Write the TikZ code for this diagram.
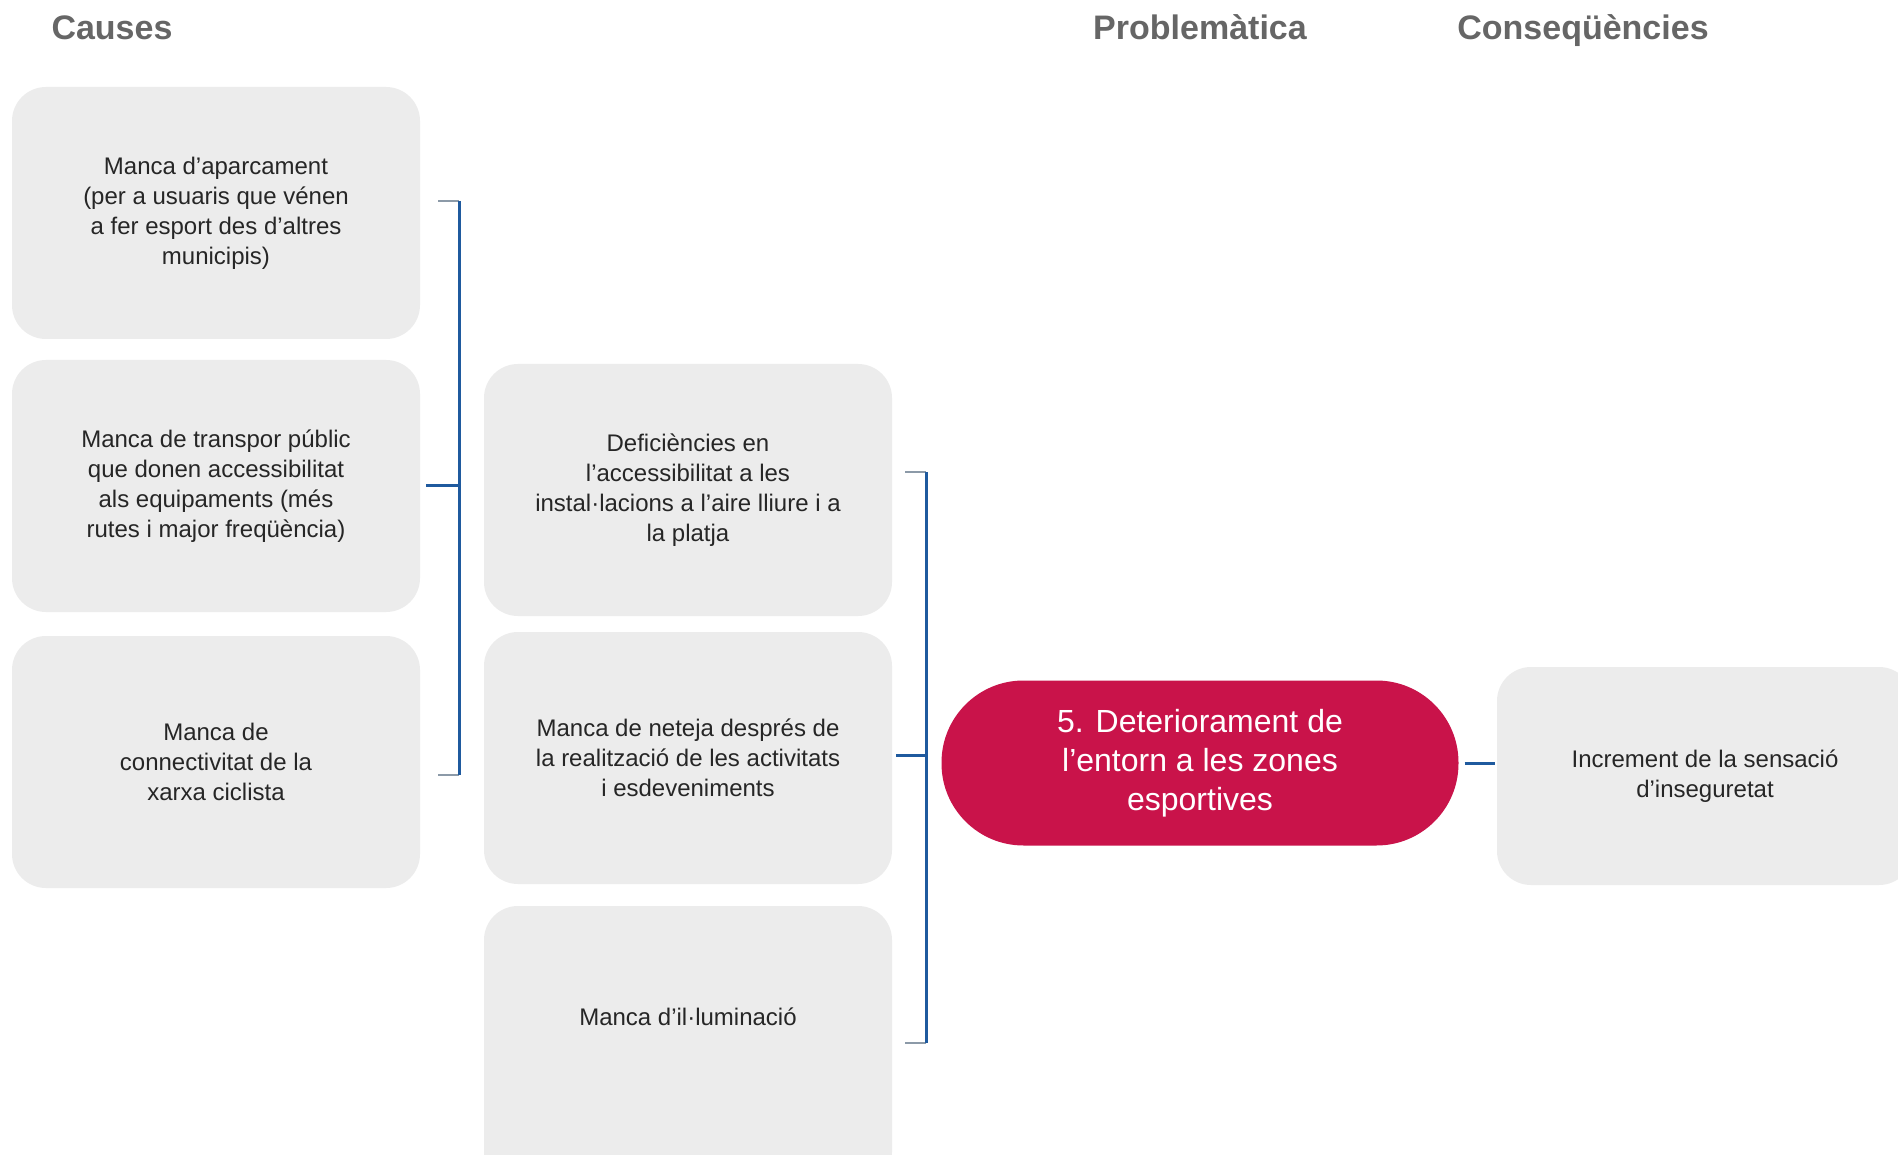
\documentclass[tikz,border=0pt]{standalone}
\usepackage{fontspec}
\setmainfont{Liberation Sans}
\definecolor{gristitol}{HTML}{666666}
\definecolor{griscaixa}{HTML}{ECECEC}
\definecolor{vermell}{HTML}{C9134A}
\definecolor{blaueix}{HTML}{1F5A9E}
\definecolor{grisvora}{HTML}{8C9AA8}
\begin{document}
\begin{tikzpicture}[x=1pt,y=-1pt]
 \tikzstyle{titol}=[font=\fontsize{34}{40}\selectfont\bfseries,text=gristitol,anchor=base];
 \tikzstyle{caixa}=[fill=griscaixa,rounded corners=34pt,minimum width=408pt,minimum height=252pt,
   inner sep=0pt,align=center,text=black!85,font=\fontsize{24}{30}\selectfont];
 \tikzstyle{problema}=[fill=vermell,rounded corners=82pt,minimum width=517pt,minimum height=165pt,
   inner sep=0pt,align=center,text=white,font=\fontsize{32}{39}\selectfont];
 \tikzstyle{eix}=[draw=blaueix,line width=3pt];
 \tikzstyle{vora}=[draw=grisvora,line width=1.5pt];
    \useasboundingbox[fill=white] (0,0) rectangle (1898,1155);
    % titols
    \node[titol] (tc) at (112,40) {Causes};
    \node[titol] (tp) at (1200,40) {Problemàtica};
    \node[titol] (tq) at (1583,40) {Conseqüències};
    % causes
    \node[caixa] (c1) at (216,213) {Manca d’aparcament\\(per a usuaris que vénen\\a fer esport des d’altres\\municipis)};
    \node[caixa] (c2) at (216,486) {Manca de transpor públic\\que donen accessibilitat\\als equipaments (més\\rutes i major freqüència)};
    \node[caixa] (c3) at (216,762) {Manca de\\connectivitat de la\\xarxa ciclista};
    \node[caixa] (c4) at (688,490) {Deficiències en\\l’accessibilitat a les\\instal·lacions a l’aire lliure i a\\la platja};
    \node[caixa] (c5) at (688,758) {Manca de neteja després de\\la realització de les activitats\\i esdeveniments};
    \node[caixa,minimum height=280pt,text height=17pt,text depth=58pt] (c6) at (688,1046) {Manca d’il·luminació};
    % problematica i consequencia
    \node[problema] (p5) at (1200,763) {5. Deteriorament de\\l’entorn a les zones\\esportives};
    \node[caixa,minimum width=416pt,minimum height=218pt] (q1) at (1705,776) {Increment de la sensació\\d’inseguretat};
    % claudators
    \coordinate (k1t) at (459,201);
    \coordinate (k1b) at (459,775);
    \coordinate (k1m) at (459,485);
    \coordinate (k2t) at (926,472);
    \coordinate (k2b) at (926,1043);
    \coordinate (k2m) at (926,755);
    \draw[vora] (k1t) -- ++(-21,0);
    \draw[vora] (k1b) -- ++(-21,0);
    \draw[eix] (k1t) -- (k1b);
    \draw[eix] (k1m) -- ++(-33,0);
    \draw[vora] (k2t) -- ++(-21,0);
    \draw[vora] (k2b) -- ++(-21,0);
    \draw[eix] (k2t) -- (k2b);
    \draw[eix] (k2m) -- ++(-30,0);
    \draw[eix] ([xshift=6pt]p5.east) -- ([xshift=-2pt]q1.west |- p5.east);
\end{tikzpicture}
\end{document}
